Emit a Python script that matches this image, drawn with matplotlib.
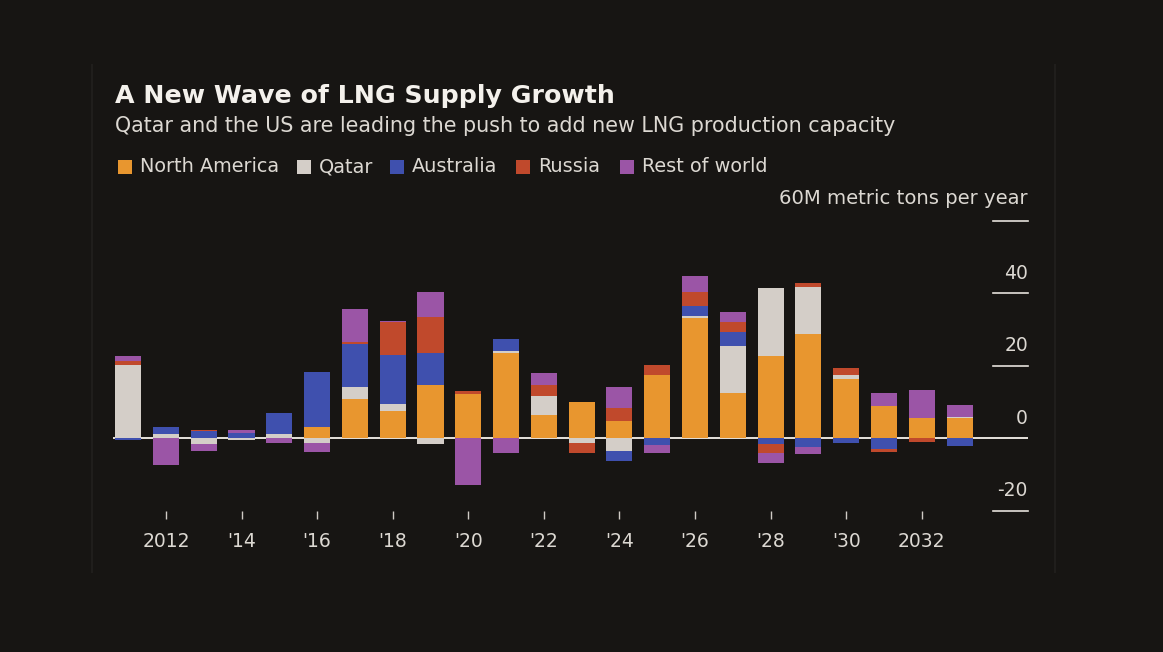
import numpy as np
import matplotlib
matplotlib.use("Agg")
import matplotlib.pyplot as plt
from matplotlib.patches import Rectangle
from matplotlib.lines import Line2D

# Valeurs (M tonnes / an)
annees = list(range(2011, 2034))
amerique_nord = [0, 0.2, 0, 0, 0, 3.1, 10.9, 7.7, 14.7, 12.3, 23.6, 6.6, 10.1, 4.8, 17.6, 33.2, 12.6, 22.7, 28.8, 16.5, 8.9, 5.6, 5.6]
qatar = [20.4, 1.1, -1.4, -0.5, 1.3, -1.2, 3.2, 1.9, -1.5, 0, 0.6, 5.2, -1.2, -3.4, 0, 0.5, 13.0, 18.8, 12.9, 1.1, 0, 0, 0.3]
australie = [-0.4, 1.8, 2.0, 1.6, 5.7, 15.1, 11.9, 13.5, 8.9, 0, 3.2, 0, 0, -2.8, -1.8, 2.9, 3.9, -1.5, -2.4, -1.2, -2.8, 0, -2.1]
russie = [0.9, 0, 0.2, 0, 0, 0, 0.7, 9.0, 9.9, 0.7, 0, 3.0, -2.9, 3.5, 2.6, 3.7, 2.5, -2.5, 1.1, 1.8, -0.8, -1.0, 0]
reste_monde = [1.4, -7.2, -2.0, 0.7, -1.2, -2.5, 9.0, 0.4, 6.8, -12.7, -3.9, 3.2, 0, 5.9, -2.3, 4.4, 2.8, -2.8, -1.8, 0, 3.7, 7.9, 3.4]

series = [
    ("North America", amerique_nord, "#e8962f"),
    ("Qatar", qatar, "#d4cec8"),
    ("Australia", australie, "#3f50ae"),
    ("Russia", russie, "#c0492c"),
    ("Rest of world", reste_monde, "#9b55a6"),
]

ticks_x = list(range(2012, 2033, 2))
labels_x = ["2012", "'14", "'16", "'18", "'20", "'22", "'24", "'26", "'28", "'30", "2032"]
ticks_y = [-20, 0, 20, 40]

fond = "#171513"
texte = "#dcd8d2"

plt.rcParams["font.family"] = ["DejaVu Sans"]

fig = plt.figure(figsize=(11.63, 6.52), dpi=100, facecolor=fond)
ax = fig.add_axes([0.0972, 0.2163, 0.7867, 0.4448], facecolor=fond)

# bordures très discrètes du cadre
for px in (92, 1055):
    fig.lines.append(Line2D([px / 1163, px / 1163], [1 - 65 / 652, 1 - 572 / 652],
                            transform=fig.transFigure, color="#201e1c", linewidth=1.5))

x = np.array(annees)
pos = np.zeros(len(x))
neg = np.zeros(len(x))
for nom, valeurs, couleur in series:
    v = np.array(valeurs, dtype=float)
    bas = np.where(v >= 0, pos, neg)
    ax.bar(x, v, width=0.69, bottom=bas, color=couleur, zorder=2, linewidth=0)
    pos = pos + np.where(v > 0, v, 0)
    neg = neg + np.where(v < 0, v, 0)

ax.set_xlim(2010.6, 2034.81)
ax.set_ylim(-20, 60)

# ligne zéro et petits traits de l'axe de droite
ax.axhline(0, color="#e6e2dc", linewidth=1.4, zorder=1)
tr = ax.get_yaxis_transform()
for v in [-20, 20, 40, 60]:
    ax.plot([0.962, 1.0], [v, v], transform=tr, color="#e6e2dc", linewidth=1.2, clip_on=False)
for v in ticks_y:
    txt = "-20" if v < 0 else str(v)
    ax.annotate(txt, xy=(1.0, v), xycoords=tr, xytext=(0, 20), textcoords="offset pixels",
                ha="right", va="center", color=texte, fontsize=13.5)
ax.annotate("60M metric tons per year", xy=(1.0, 60), xycoords=tr, xytext=(0, 22),
            textcoords="offset pixels", ha="right", va="center", color=texte, fontsize=14.1)

for s in ax.spines.values():
    s.set_visible(False)
ax.set_yticks([])
ax.set_xticks(ticks_x)
ax.set_xticklabels(labels_x)
ax.tick_params(axis="x", colors="#cfcbc5", length=6, width=1, pad=9, labelsize=13.5, labelcolor=texte)

# titre, sous-titre
fig.text(115 / 1163, 1 - 96 / 652, "A New Wave of LNG Supply Growth", color="#f4f1ec",
         fontsize=18.2, fontweight="bold", va="center", ha="left")
fig.text(115 / 1163, 1 - 126 / 652, "Qatar and the US are leading the push to add new LNG production capacity",
         color=texte, fontsize=14.9, va="center", ha="left")

# légende manuelle
pos_legende = [118, 297, 390, 516, 620]
for (nom, _, couleur), px in zip(series, pos_legende):
    fig.patches.append(Rectangle((px / 1163, 1 - 174 / 652), 14 / 1163, 14 / 652,
                                 transform=fig.transFigure, color=couleur, linewidth=0))
    fig.text((px + 22) / 1163, 1 - 167 / 652, nom, color=texte, fontsize=13.9, va="center", ha="left")

fig.savefig("out.png", dpi=100, facecolor=fond)
